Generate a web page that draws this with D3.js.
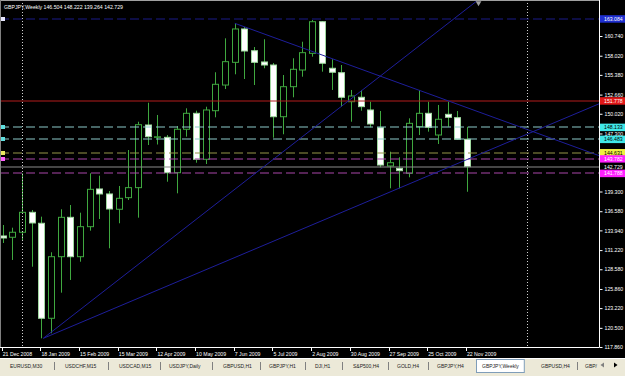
<!DOCTYPE html>
<html>
<head>
<meta charset="utf-8">
<script src="https://cdn.jsdelivr.net/npm/d3@7"></script>
<style>
  body { margin: 0; background: #000; }
  svg { display: block; }
  text { font-family: "Liberation Sans", Arial, sans-serif; }
</style>
</head>
<body>
<svg id="chart" width="625" height="376"></svg>
<script>
// weekly GBPJPY candles, 21 Dec 2008 .. 22 Nov 2009
const opens  = [133.17,132.99,133.68,136.43,134.92,121.82,130.31,135.74,130.31,134.45,139.65,138.96,136.85,138.45,139.83,148.47,146.80,146.77,141.89,147.88,150.08,143.74,150.44,153.98,157.11,161.71,158.71,157.16,156.74,149.61,153.75,156.05,158.35,162.71,156.29,155.68,151.68,152.29,150.54,148.10,142.82,142.50,141.81,148.24,150.08,147.09,149.94,149.48,146.504]
const highs  = [134.68,134.31,141.81,136.75,135.83,130.92,136.85,137.44,136.38,141.81,141.48,139.37,140.06,145.02,148.92,151.54,149.85,147.09,148.33,150.77,150.44,150.99,155.74,160.42,162.49,161.98,159.22,160.29,157.02,155.36,157.67,159.95,162.95,162.81,157.53,156.74,153.30,153.30,151.68,150.40,144.79,144.02,149.39,153.30,151.68,151.23,151.68,150.40,148.222]
const lows   = [132.20,129.86,132.61,128.93,119.06,119.75,125.35,127.10,129.62,133.90,135.51,131.47,134.92,138.13,135.69,145.71,145.78,140.65,139.05,146.86,143.27,143.09,149.53,153.43,155.46,154.81,153.98,156.29,146.72,147.19,152.29,155.13,157.89,155.82,153.30,151.00,148.92,150.44,148.15,142.64,139.74,139.74,141.26,147.09,147.55,145.85,148.24,146.40,139.264]
const closes = [132.89,133.68,136.43,134.96,121.82,130.31,135.74,130.31,134.45,139.60,138.96,136.89,138.36,139.83,148.51,146.86,146.84,141.89,147.88,150.08,143.74,150.54,154.08,157.20,161.71,158.67,157.11,156.74,149.61,153.75,156.15,158.44,162.71,156.98,155.74,152.29,152.47,151.00,148.61,142.95,143.27,142.17,148.70,150.08,148.15,149.26,149.53,146.50,142.729]

const dateLabels = ["21 Dec 2008","18 Jan 2009","15 Feb 2009","15 Mar 2009","12 Apr 2009","10 May 2009","7 Jun 2009","5 Jul 2009","2 Aug 2009","30 Aug 2009","27 Sep 2009","25 Oct 2009","22 Nov 2009"]
const priceTicks = [160.740,158.020,155.380,152.660,150.020,147.300,139.300,136.580,133.940,131.220,128.580,125.860,123.220,120.500,117.860]

// horizontal level objects
const levelPrices = [163.084,151.778,148.133,146.483,144.631,143.782,142.729,141.788]
const levelKinds  = ["blue","red","cyan","cyan","yellow","magenta","bid","magenta"]
const levelMarked = [true,false,true,true,true,true,false,false]

// trendlines: [week index, price] pairs
const trendA = [[4.2,119.06],[34.54,150.54]]
const trendB = [[4.2,119.06],[54.84,147.55]]
const trendC = [[24,162.49],[54.84,147.55]]
const vLines = [2, 54.22]

const tabs = ["EURUSD,M30","USDCHF,M15","USDCAD,M15","USDJPY,Daily","GBPUSD,H1","GBPJPY,H1","DJI,H1","S&P500,H4","GOLD,H4","GBPJPY,H4","GBPJPY,Weekly","GBPUSD,H4","GBP/"]
const activeTab = "GBPJPY,Weekly"
// tab strip layout (left edge of each caption)
const tabX = [10,65,119,169,223,269,315,353,397,437,482,541,585]

const kindStyle = {
  blue:    {line:"#1a1a88", dash:"9,4", box:"#1f2fd0", txt:"#fff"},
  red:     {line:"#b41c1c", dash:null,  box:"#e01818", txt:"#fff"},
  cyan:    {line:"#8ccaca", dash:"9,4", box:"#40e8e8", txt:"#000"},
  yellow:  {line:"#959548", dash:"9,4", box:"#f0f040", txt:"#000"},
  magenta: {line:"#aa46aa", dash:"9,4", box:"#ff20ff", txt:"#fff"},
  bid:     {line:"#8c8c8c", dash:null,  box:"#000",    txt:"#fff"}
}
const markColor = {blue:"#e8e8ff", cyan:"#60e0e0", yellow:"#e8e860", magenta:"#ff60ff"}

const svg = d3.select("#chart")
const plotR = 599, plotB = 347
const fs = 5.2

const x = d3.scaleLinear().domain([0, 48]).range([2.7, 466.9])
const y = d3.scaleLinear().domain([117.86, 160.74]).range([347, 36])

svg.append("rect").attr("width", 625).attr("height", 376).attr("fill", "#000")

svg.append("clipPath").attr("id", "plot")
  .append("rect").attr("x", 0).attr("y", 0).attr("width", plotR).attr("height", plotB)

const g = svg.append("g").attr("clip-path", "url(#plot)")

// candles
const candles = g.selectAll("g.c").data(opens.map((o, i) => i)).enter().append("g").attr("class", "c")
candles.append("line")
  .attr("x1", i => Math.round(x(i)) + 0.5).attr("x2", i => Math.round(x(i)) + 0.5)
  .attr("y1", i => y(highs[i])).attr("y2", i => y(lows[i]))
  .attr("stroke", "#3fa83f")
candles.append("rect")
  .attr("x", i => Math.round(x(i)) - 2.5)
  .attr("y", i => y(Math.max(opens[i], closes[i])))
  .attr("width", 6)
  .attr("height", i => Math.max(0.5, Math.abs(y(opens[i]) - y(closes[i]))))
  .attr("fill", i => closes[i] >= opens[i] ? "#000" : "#fff")
  .attr("stroke", i => closes[i] >= opens[i] ? "#3fa83f" : "#9fd89f")

// vertical dotted lines
g.selectAll("line.v").data(vLines).enter().append("line").attr("class", "v")
  .attr("x1", d => Math.round(x(d)) + 0.5).attr("x2", d => Math.round(x(d)) + 0.5)
  .attr("y1", 0).attr("y2", plotB)
  .attr("stroke", "#d0d0d0").attr("stroke-dasharray", "1,2")

// horizontal levels (slightly soft, like the scaled-down screenshot)
levelPrices.forEach((p, k) => {
  const s = kindStyle[levelKinds[k]]
  const yy = Math.round(y(p))
  const ln = g.append("line").attr("x1", 0).attr("x2", plotR).attr("y1", yy).attr("y2", yy)
    .attr("stroke", s.line).attr("stroke-width", 1.2)
  if (s.dash) ln.attr("stroke-dasharray", s.dash)
  if (levelMarked[k]) g.append("rect").attr("x", 1).attr("y", yy - 2).attr("width", 4).attr("height", 4)
    .attr("fill", markColor[levelKinds[k]])
})

// trendlines, extended as rays to the right
const ray = pts => {
  const [[i0, p0], [i1, p1]] = pts
  const slope = (p1 - p0) / (i1 - i0)
  const iEnd = 62
  return [[x(i0), y(p0)], [x(iEnd), y(p0 + slope * (iEnd - i0))]]
}
;[trendA, trendB, trendC].forEach(t => {
  g.append("path").attr("d", d3.line()(ray(t)))
    .attr("stroke", "#1e1e9a").attr("fill", "none").attr("stroke-width", 1)
})

// chart shift marker
svg.append("path").attr("d", d3.symbol(d3.symbolTriangle, 14)())
  .attr("transform", `translate(${x(49.2)},3) rotate(180)`).attr("fill", "#a0a0a0")

// frame
svg.append("line").attr("x1", 0).attr("x2", plotR).attr("y1", 0.5).attr("y2", 0.5).attr("stroke", "#a0a0a0")
svg.append("line").attr("x1", 0.5).attr("x2", 0.5).attr("y1", 0).attr("y2", plotB).attr("stroke", "#808080")

// price axis
const yAxis = d3.axisRight(y).tickValues(priceTicks).tickFormat(d3.format(".3f")).tickSize(3).tickPadding(2)
const ya = svg.append("g").attr("transform", `translate(${plotR + 0.5},0)`).call(yAxis)
ya.select(".domain").attr("stroke", "#fff").attr("d", `M0,0V${plotB + 0.5}`)
ya.selectAll(".tick line").attr("stroke", "#fff")
ya.selectAll("text").attr("fill", "#fff").attr("font-size", fs).attr("font-family", "Liberation Sans, Arial")

// level labels on the price axis
levelPrices.forEach((p, k) => {
  const s = kindStyle[levelKinds[k]]
  const yy = y(p)
  svg.append("rect").attr("x", 600).attr("y", yy - 3.8).attr("width", 25).attr("height", 7.5).attr("fill", s.box)
  svg.append("text").attr("x", 604).attr("y", yy + 1.9).attr("font-size", fs).attr("fill", s.txt)
    .text(d3.format(".3f")(p))
})

// time axis
svg.append("line").attr("x1", 0).attr("x2", plotR).attr("y1", plotB + 0.5).attr("y2", plotB + 0.5).attr("stroke", "#fff")
const tIdx = dateLabels.map((d, k) => k * 4)
const xt = svg.append("g")
xt.selectAll("line").data(tIdx).enter().append("line")
  .attr("x1", i => Math.round(x(i)) - 0.5).attr("x2", i => Math.round(x(i)) - 0.5)
  .attr("y1", plotB).attr("y2", plotB + 4).attr("stroke", "#fff")
xt.selectAll("text").data(tIdx).enter().append("text")
  .attr("x", i => Math.max(1, x(i))).attr("y", plotB + 8.5)
  .attr("font-size", fs).attr("fill", "#fff")
  .text((i, k) => dateLabels[k])

// tab strip
const tb = svg.append("g")
tb.append("rect").attr("x", 0).attr("y", 358).attr("width", 625).attr("height", 18).attr("fill", "#ece9d8")
tb.append("line").attr("x1", 0).attr("x2", 625).attr("y1", 358.5).attr("y2", 358.5).attr("stroke", "#fff")
tabs.forEach((name, k) => {
  const active = name === activeTab
  const t = tb.append("text").attr("x", tabX[k]).attr("y", 367.5).attr("font-size", 5)
    .attr("fill", "#222").text(name)
  const w = t.node().getComputedTextLength()
  if (active) {
    tb.insert("rect", "text").attr("x", tabX[k] - 5.5).attr("y", 359.5).attr("width", w + 11).attr("height", 13)
      .attr("fill", "#fff").attr("stroke", "#7f9db9")
  }
  const next = tabs[k + 1]
  if (next && !active && next !== activeTab) {
    const sx = Math.round((tabX[k] + w + tabX[k + 1]) / 2) + 0.5
    tb.append("line").attr("x1", sx).attr("x2", sx).attr("y1", 362).attr("y2", 370).attr("stroke", "#808080")
  }
})
tb.append("path").attr("d", "M604,362.5L600.5,365L604,367.5Z").attr("fill", "#808080")
tb.append("path").attr("d", "M614,362.5L617.5,365L614,367.5Z").attr("fill", "#000")

// header
svg.append("text").attr("x", 4).attr("y", 9).attr("font-size", fs).attr("fill", "#fff")
  .text("GBPJPY,Weekly  " + [opens[48], highs[48], lows[48], closes[48]].map(d3.format(".3f")).join(" "))
</script>
</body>
</html>
